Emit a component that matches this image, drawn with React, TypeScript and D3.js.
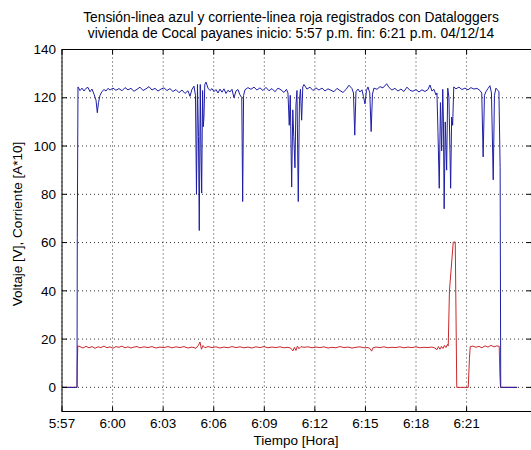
import React from "react";
import * as d3 from "d3";

// Datalogger session start (4 Dec 2014, 5:57 p.m.); sample times are minutes after it.
const START = new Date(2014, 11, 4, 17, 57, 0);
const X_END_MIN = 27.85;

// Voltage [V] samples: [minutes after start, value]
const voltage: [number, number][] = [
  [0, 0], [0.89, 0], [0.907, 62], [0.949, 124.5], [1.068, 123], [1.186, 124], [1.305, 122.8],
  [1.423, 123.9], [1.542, 124.3], [1.661, 122.5], [1.779, 123.6], [1.898, 121.5], [2.017, 119],
  [2.094, 113.8], [2.165, 118], [2.254, 121], [2.372, 122.6], [2.491, 123.4], [2.61, 122.8],
  [2.728, 123.9], [2.847, 123.2], [3.025, 124], [3.203, 123.1], [3.381, 123.8], [3.559, 122.9],
  [3.737, 124.2], [3.914, 123.3], [4.092, 123.9], [4.27, 122.7], [4.448, 123.5], [4.626, 124.4],
  [4.804, 123], [4.982, 123.7], [5.16, 124.6], [5.338, 123.2], [5.516, 123.9], [5.694, 122.8],
  [5.872, 123.6], [6.05, 124.1], [6.228, 123], [6.405, 123.8], [6.583, 122.6], [6.761, 123.4],
  [6.939, 122.1], [7.117, 123.2], [7.295, 121.8], [7.473, 122.9], [7.592, 120.6], [7.71, 123.5],
  [7.829, 124.8], [7.918, 121], [7.977, 80], [8.036, 125.5], [8.096, 104], [8.143, 65],
  [8.203, 125.5], [8.244, 99], [8.286, 80.5], [8.339, 123], [8.381, 108], [8.422, 112],
  [8.47, 125.5], [8.541, 126.5], [8.659, 124], [8.778, 123], [8.897, 123.8], [9.015, 122.5],
  [9.134, 123.4], [9.252, 122], [9.371, 123.6], [9.49, 122.3], [9.608, 123.7], [9.727, 121.8],
  [9.845, 123.1], [9.964, 122.4], [10.083, 123.5], [10.201, 120], [10.32, 122.8], [10.439, 123.4],
  [10.557, 121.2], [10.664, 120], [10.717, 77], [10.771, 121], [10.854, 123.3], [11.032, 124.2],
  [11.21, 123.5], [11.388, 124.4], [11.565, 123.2], [11.743, 124.1], [11.921, 123], [12.099, 124.3],
  [12.277, 122.9], [12.455, 123.8], [12.633, 122.5], [12.811, 124], [12.989, 123.3], [13.167, 122.2],
  [13.315, 123.5], [13.404, 122], [13.481, 108.6], [13.54, 121], [13.623, 83], [13.689, 115],
  [13.748, 104], [13.819, 91], [13.878, 117], [13.938, 123], [14.015, 77], [14.086, 119],
  [14.145, 123.5], [14.216, 110.7], [14.282, 124.5], [14.353, 125.5], [14.531, 123.6],
  [14.709, 124.4], [14.887, 123], [15.065, 124.1], [15.243, 123.2], [15.421, 124], [15.599, 122.8],
  [15.776, 123.7], [15.954, 123.1], [16.132, 122.5], [16.31, 123.9], [16.488, 123], [16.666, 122.2],
  [16.844, 123.4], [17.022, 125.2], [17.2, 123.8], [17.289, 122], [17.366, 104.5], [17.437, 122.5],
  [17.556, 123.6], [17.674, 122.4], [17.793, 123.3], [17.882, 120.5], [17.971, 117.5], [18.06, 123],
  [18.149, 124.5], [18.256, 122], [18.339, 106], [18.416, 121.5], [18.505, 124], [18.683, 123.5],
  [18.861, 124.6], [19.039, 124.1], [19.258, 125.8], [19.394, 124.3], [19.572, 123.2],
  [19.75, 123.9], [19.928, 122.8], [20.106, 123.6], [20.284, 122.6], [20.462, 124.4],
  [20.64, 123.1], [20.818, 122.7], [20.996, 123.4], [21.174, 122.4], [21.352, 123.3],
  [21.53, 122.6], [21.707, 123.4], [21.826, 125.3], [21.945, 122.8], [22.063, 123.5],
  [22.182, 121.2], [22.241, 122], [22.301, 106], [22.378, 82.5], [22.449, 118], [22.52, 98],
  [22.585, 123.5], [22.627, 110], [22.668, 74], [22.734, 110], [22.817, 90], [22.882, 124],
  [22.953, 120], [23.054, 82.5], [23.113, 112], [23.173, 108.6], [23.238, 124.5], [23.368, 123.7],
  [23.546, 124.4], [23.724, 123.4], [23.902, 124], [24.08, 123.3], [24.258, 124.2], [24.436, 123.6],
  [24.614, 123.9], [24.792, 123], [24.898, 122], [24.982, 95.5], [25.059, 121], [25.147, 122.5],
  [25.266, 123.8], [25.385, 125], [25.474, 122], [25.58, 86], [25.652, 121], [25.741, 124],
  [25.829, 123.3], [25.918, 122.5], [25.989, 91], [26.025, 0], [27.0, 0],
];

// Current [A*10] samples: [minutes after start, value]
const current: [number, number][] = [
  [0, 0], [0.89, 0], [0.902, 8.5], [0.937, 17.2], [1.068, 16.9], [1.246, 16.3], [1.423, 17],
  [1.601, 16.4], [1.779, 16.9], [1.957, 16.2], [2.135, 16.8], [2.313, 16.5], [2.491, 17.1],
  [2.669, 16.4], [2.847, 16.8], [3.025, 16.2], [3.203, 16.9], [3.381, 16.6], [3.559, 17.1],
  [3.737, 16.4], [3.914, 16.8], [4.092, 16.3], [4.27, 16.7], [4.448, 16.9], [4.626, 16.4],
  [4.863, 16.8], [5.101, 16.5], [5.338, 16.9], [5.575, 16.3], [5.812, 16.7], [6.05, 16.5],
  [6.287, 16.9], [6.524, 16.4], [6.761, 16.8], [6.999, 16.5], [7.236, 16.9], [7.473, 16.3],
  [7.71, 16.7], [7.948, 16.2], [8.096, 17.5], [8.185, 18.8], [8.274, 15.8], [8.363, 17.3],
  [8.481, 16.4], [8.659, 16.9], [8.897, 16.5], [9.134, 16.8], [9.371, 16.3], [9.608, 16.7],
  [9.845, 16.4], [10.083, 16.9], [10.32, 16.5], [10.557, 16.8], [10.794, 16.4], [11.032, 16.7],
  [11.269, 16.3], [11.506, 16.8], [11.743, 16.5], [11.981, 16.9], [12.218, 16.4], [12.455, 16.7],
  [12.692, 16.5], [12.93, 16.8], [13.167, 16.4], [13.404, 16.6], [13.582, 16.2], [13.7, 15.1],
  [13.789, 16.6], [13.878, 15.3], [13.967, 17.1], [14.056, 16], [14.175, 16.9], [14.353, 16.6],
  [14.59, 16.8], [14.828, 16.4], [15.065, 16.7], [15.302, 16.5], [15.539, 16.8], [15.776, 16.3],
  [16.014, 16.6], [16.251, 16.4], [16.488, 16.9], [16.725, 16.5], [16.963, 16.7], [17.2, 16.3],
  [17.437, 16.6], [17.674, 16.8], [17.912, 16.4], [18.149, 16.5], [18.268, 16.1], [18.368, 15],
  [18.445, 16.4], [18.623, 16.7], [18.861, 16.5], [19.098, 16.8], [19.335, 16.4], [19.572, 16.6],
  [19.81, 16.5], [20.047, 16.8], [20.284, 16.4], [20.521, 16.7], [20.759, 16.5], [20.996, 16.8],
  [21.233, 16.4], [21.47, 16.6], [21.707, 16.5], [21.945, 16.7], [22.123, 16.3], [22.241, 15.6],
  [22.33, 16.9], [22.419, 15.8], [22.508, 17], [22.597, 16.1], [22.686, 17.4], [22.775, 16.5],
  [22.864, 17.8], [22.911, 17.2], [22.983, 40], [23.208, 60.2], [23.327, 60.2], [23.416, 0],
  [24.098, 0], [24.169, 12], [24.216, 16.9], [24.377, 17.1], [24.555, 16.6], [24.733, 17],
  [24.91, 16.4], [25.088, 17.2], [25.266, 16.7], [25.444, 17.4], [25.622, 16.8], [25.8, 17.2],
  [25.936, 17], [25.977, 4.5], [26.013, 0], [27.0, 0],
];

const xTickMinutes = [0, 3, 6, 9, 12, 15, 18, 21, 24];
const yTicks = [0, 20, 40, 60, 80, 100, 120, 140];
const Y_MIN = -10;
const Y_MAX = 140;

const titleLines = [
  "Tensión-linea azul y corriente-linea roja registrados con Dataloggers",
  "vivienda de Cocal payanes inicio: 5:57 p.m. fin: 6:21 p.m. 04/12/14",
];
const xLabel = "Tiempo [Hora]";
const yLabel = "Voltaje [V], Corriente [A*10]";

const W = 531;
const H = 450;
const M = { left: 62, right: 531.5, top: 49.5, bottom: 411.5 };
const FONT = "'Liberation Sans', Arial, Helvetica, sans-serif";

const toDate = (m: number) => new Date(START.getTime() + m * 60000);

export default function App() {
  const x = d3.scaleTime().domain([toDate(0), toDate(X_END_MIN)]).range([M.left, M.right]);
  const y = d3.scaleLinear().domain([Y_MIN, Y_MAX]).range([M.bottom, M.top]);
  const fmt = d3.timeFormat("%-I:%M");

  const line = d3
    .line<[number, number]>()
    .x((d) => x(toDate(d[0])))
    .y((d) => y(d[1]));

  const xTicks = xTickMinutes.map(toDate);
  const tick = 5;

  return (
    <svg
      width={W}
      height={H}
      style={{ position: "absolute", left: 0, top: 0, background: "#fff" }}
      fontFamily={FONT}
    >
      <defs>
        <clipPath id="plot">
          <rect x={M.left} y={M.top} width={M.right - M.left} height={M.bottom - M.top} />
        </clipPath>
      </defs>
      <rect x={0} y={0} width={W} height={H} fill="#fff" />

      {/* dotted grid */}
      <g stroke="#333" strokeWidth={1} strokeDasharray="1 3" fill="none">
        {xTicks.map((t, i) => (
          <line key={"gx" + i} x1={x(t)} x2={x(t)} y1={M.top} y2={M.bottom} />
        ))}
        {yTicks.map((v) => (
          <line key={"gy" + v} x1={M.left} x2={M.right} y1={y(v)} y2={y(v)} />
        ))}
      </g>

      {/* series */}
      <g clipPath="url(#plot)" fill="none" strokeLinejoin="round">
        <path d={line(current) || ""} stroke="#c8282c" strokeWidth={1} />
        <path d={line(voltage) || ""} stroke="#1e1ea6" strokeWidth={1} />
      </g>

      {/* axes box */}
      <rect
        x={M.left}
        y={M.top}
        width={M.right - M.left}
        height={M.bottom - M.top}
        fill="none"
        stroke="#000"
        strokeWidth={1}
      />
      <g stroke="#000" strokeWidth={1}>
        {xTicks.map((t, i) => (
          <g key={"tx" + i}>
            <line x1={x(t)} x2={x(t)} y1={M.bottom} y2={M.bottom - tick} />
            <line x1={x(t)} x2={x(t)} y1={M.top} y2={M.top + tick} />
          </g>
        ))}
        {yTicks.map((v) => (
          <g key={"ty" + v}>
            <line x1={M.left} x2={M.left + tick} y1={y(v)} y2={y(v)} />
            <line x1={M.right} x2={M.right - tick} y1={y(v)} y2={y(v)} />
          </g>
        ))}
      </g>

      {/* tick labels */}
      <g fontSize={13.5} fill="#000">
        {xTicks.map((t, i) => (
          <text key={"lx" + i} x={x(t)} y={428} textAnchor="middle">
            {fmt(t)}
          </text>
        ))}
        {yTicks.map((v) => (
          <text key={"ly" + v} x={56} y={y(v)} dy="0.35em" textAnchor="end">
            {v}
          </text>
        ))}
      </g>

      {/* labels and title */}
      <text x={296} y={445} fontSize={13.5} textAnchor="middle">
        {xLabel}
      </text>
      <text
        transform={`translate(22, 224) rotate(-90)`}
        fontSize={13.5}
        textAnchor="middle"
      >
        {yLabel}
      </text>
      <g fontSize={13.8} textAnchor="middle">
        {titleLines.map((s, i) => (
          <text key={"t" + i} x={291} y={22 + i * 16}>
            {s}
          </text>
        ))}
      </g>
    </svg>
  );
}
